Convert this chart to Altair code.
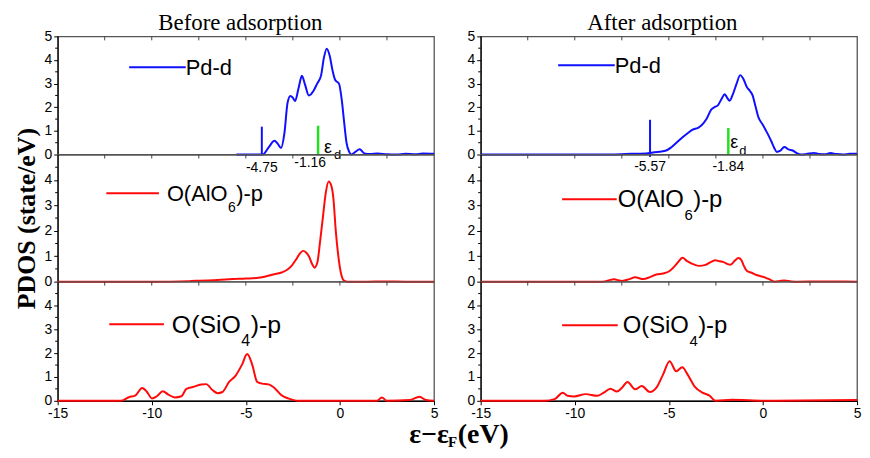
import altair as alt
import pandas as pd

# ---------------- data ----------------
# Pd-d, before adsorption
e_pd_before = [-5.5, -4.15, -4.05, -3.75, -3.48, -3.3, -3.13, -2.95, -2.78, -2.63, -2.5, -2.38,
               -2.2, -2.02, -1.85, -1.65, -1.4, -1.21, -1.0, -0.85, -0.7, -0.55, -0.39, -0.25,
               -0.05, 0.1, 0.22, 0.35, 0.5, 0.6, 0.8, 1.05, 1.3, 1.6, 2.0, 2.5, 3.0, 3.5, 4.0, 4.4, 5.0]
d_pd_before = [0.0, 0.0, 0.02, 0.35, 0.58, 0.45, 0.28, 0.9, 2.2, 2.48, 2.4, 2.27,
               2.8, 3.33, 2.95, 2.5, 2.7, 3.0, 3.35, 4.1, 4.48, 4.2, 3.55, 3.15,
               3.0, 2.3, 1.4, 0.5, 0.1, 0.0, 0.1, 0.22, 0.05, 0.02, 0.04, 0.01, 0.0, 0.03, 0.01, 0.04, 0.03]

# Pd-d, after adsorption
e_pd_after = [-15, -10, -8, -7, -6.1, -5.9, -5.5, -5.14, -4.88, -4.6, -4.27, -4.0, -3.74, -3.45,
              -3.25, -3.0, -2.75, -2.55, -2.4, -2.2, -2.03, -1.9, -1.77, -1.6, -1.4, -1.21, -1.04,
              -0.85, -0.7, -0.55, -0.4, -0.25, 0.0, 0.1, 0.3, 0.45, 0.6, 0.74, 0.9, 1.14, 1.35,
              1.58, 1.8, 2.01, 2.3, 2.71, 3.0, 3.3, 3.59, 3.9, 4.28, 4.6, 5.0]
d_pd_after = [0.0, 0.0, 0.0, 0.03, 0.06, 0.08, 0.12, 0.17, 0.3, 0.5, 0.73, 0.9, 1.05, 1.13,
              1.25, 1.5, 1.9, 2.02, 2.08, 2.35, 2.55, 2.4, 2.28, 2.55, 3.0, 3.36, 3.2,
              2.85, 2.7, 2.5, 2.05, 1.6, 1.25, 1.1, 0.8, 0.55, 0.28, 0.11, 0.15, 0.32, 0.22,
              0.17, 0.06, 0.0, 0.02, 0.07, 0.02, 0.01, 0.06, 0.02, 0.0, 0.03, 0.03]

# O(AlO6)-p, before adsorption
e_alo_before = [-15, -10, -8, -7.46, -6.5, -5.71, -5.0, -4.14, -3.62, -3.1, -2.8, -2.57, -2.35,
                -2.15, -1.96, -1.8, -1.65, -1.45, -1.35, -1.2, -1.05, -0.91, -0.75, -0.6, -0.45,
                -0.35, -0.22, -0.1, 0.05, 0.22, 0.4, 1.5, 2.31, 3.5, 5.0]
d_alo_before = [0.0, 0.0, 0.02, 0.04, 0.06, 0.1, 0.12, 0.17, 0.27, 0.36, 0.47, 0.62, 0.85,
                1.08, 1.21, 1.15, 1.0, 0.65, 0.55, 0.75, 1.6, 2.5, 3.5, 3.94, 3.75,
                3.3, 2.0, 1.1, 0.35, 0.04, 0.0, 0.0, 0.01, 0.0, 0.0]

# O(AlO6)-p, after adsorption
e_alo_after = [-15, -10, -8.5, -8.1, -7.93, -7.49, -7.1, -6.79, -6.36, -6.0, -5.66, -5.3, -4.96,
               -4.7, -4.53, -4.27, -4.05, -3.8, -3.4, -3.05, -2.75, -2.53, -2.3, -2.09, -1.9,
               -1.74, -1.5, -1.3, -1.15, -1.0, -0.85, -0.6, -0.34, 0.1, 0.45, 0.62, 0.9, 1.14,
               1.5, 1.84, 3.0, 5.0]
d_alo_after = [0.0, 0.0, 0.0, 0.07, 0.09, 0.03, 0.1, 0.17, 0.1, 0.18, 0.28, 0.32, 0.42,
               0.6, 0.75, 0.94, 0.82, 0.72, 0.62, 0.66, 0.78, 0.84, 0.8, 0.77, 0.7,
               0.66, 0.82, 0.93, 0.85, 0.6, 0.42, 0.35, 0.26, 0.17, 0.05, 0.0, 0.03, 0.05,
               0.01, 0.0, 0.01, 0.0]

# O(SiO4)-p, before adsorption
e_sio_before = [-15, -11.65, -11.21, -10.86, -10.51, -10.25, -9.99, -9.73, -9.41, -9.12, -8.77,
                -8.42, -8.16, -7.81, -7.37, -7.11, -6.76, -6.5, -6.24, -5.89, -5.54, -5.19,
                -4.93, -4.67, -4.4, -4.14, -3.79, -3.44, -3.1, -2.75, -2.22, 1.97, 2.23, 2.49,
                3.71, 4.23, 4.58, 5.0]
d_sio_before = [0.0, 0.0, 0.15, 0.23, 0.54, 0.37, 0.1, 0.19, 0.4, 0.26, 0.14,
                0.19, 0.5, 0.58, 0.68, 0.7, 0.44, 0.32, 0.37, 0.79, 1.06, 1.54,
                1.96, 1.54, 0.8, 0.72, 0.69, 0.51, 0.23, 0.1, 0.0, 0.0, 0.14, 0.0,
                0.03, 0.17, 0.03, 0.0]

# O(SiO4)-p, after adsorption
e_sio_after = [-15, -11.6, -11.07, -10.64, -10.38, -10.03, -9.42, -8.81, -8.46, -8.11, -7.76,
               -7.49, -7.2, -6.79, -6.44, -6.01, -5.66, -5.31, -4.96, -4.61, -4.29, -4.0,
               -3.65, -3.21, -2.86, -2.51, -1.64, 0.1, 5.0]
d_sio_after = [0.0, 0.0, 0.07, 0.34, 0.21, 0.18, 0.28, 0.21, 0.34, 0.51, 0.39,
               0.55, 0.79, 0.48, 0.62, 0.37, 0.55, 1.1, 1.66, 1.24, 1.41, 1.1,
               0.62, 0.34, 0.23, 0.0, 0.04, 0.0, 0.03]

# sharp Pd-d peak (vertical line) and d-band centre
spike_energy = [-4.15, -6.0]
spike_low = [0.0, -0.1]
spike_high = [1.18, 1.47]
spike_label = ["-4.75", "-5.57"]
dcenter_energy = [-1.16, -1.84]
dcenter_height = [1.22, 1.12]
dcenter_label = ["-1.16", "-1.84"]

panel_titles = ["Before adsorption", "After adsorption"]
x_ticks = [-15, -10, -5, 0, 5]
x_minor_ticks = [-12.5, -10, -7.5, -5, -2.5, 0, 2.5]
y_minor_ticks = [0.5, 1.5, 2.5, 3.5, 4.5]

# ---------------- styling ----------------
SANS = "Liberation Sans"
SERIF = "Liberation Serif"
BLUE = "#1010ff"
RED = "#ff0a0a"
GREEN = "#22e022"
W = 379
HEIGHTS = [119, 128, 120]
XS = alt.Scale(domain=[-15, 5], nice=False, zero=False)
YS = alt.Scale(domain=[0, 5], nice=False, zero=False)


def make_x_axis(show):
    if not show:
        return None
    return alt.Axis(values=x_ticks, labelExpr="'' + datum.value", title=None, grid=False,
                    tickSize=4, tickColor="black", domainColor="black", domainWidth=1.2,
                    labelFont=SANS, labelFontSize=14, labelColor="black", labelPadding=2,
                    labelFlush=False)


def make_y_axis(top, title=None):
    vals = [0, 1, 2, 3, 4, 5] if top else [0, 1, 2, 3, 4]
    if title:
        kw = dict(title=title, titleFont=SERIF, titleFontSize=26, titleFontWeight="bold",
                  titleColor="black", titlePadding=5)
    else:
        kw = dict(title=None)
    return alt.Axis(values=vals, grid=False, tickSize=4, tickColor="black",
                    domainColor="black", domainWidth=1.2, labelFont=SANS, labelFontSize=14,
                    labelColor="black", labelPadding=2, labelFlush=False, **kw)


def one():
    return alt.Chart(pd.DataFrame({"k": [0]}))


def legend(color, x0, x1, y, gap, main, sub=None, rest=None, size=22):
    layers = [one().mark_rule(color=color, strokeWidth=2).encode(
        x=alt.value(x0), x2=alt.value(x1), y=alt.value(y))]
    tx = x1 + gap
    layers.append(one().mark_text(align="left", baseline="middle", font=SANS, fontSize=size,
                                  color="black").encode(
        x=alt.value(tx), y=alt.value(y + 1), text=alt.value(main)))
    if sub:
        ss = round(size * 0.62)
        wmain = 2.778 * size
        layers.append(one().mark_text(align="left", baseline="middle", font=SANS, fontSize=ss,
                                      color="black").encode(
            x=alt.value(tx + wmain + 0.5), y=alt.value(y + 1 + 0.62 * size), text=alt.value(sub)))
        layers.append(one().mark_text(align="left", baseline="middle", font=SANS, fontSize=size,
                                      color="black").encode(
            x=alt.value(tx + wmain + 0.556 * ss + 1), y=alt.value(y + 1), text=alt.value(rest)))
    return layers


def panel(xs, ys, color, top, show_x, ytitle=None):
    xa = make_x_axis(show_x)
    ya = make_y_axis(top, ytitle)

    def X(f):
        return alt.X(f, type="quantitative", scale=XS, axis=xa)

    def Y(f):
        return alt.Y(f, type="quantitative", scale=YS, axis=ya)

    line = alt.Chart(pd.DataFrame({"E": xs, "D": ys})).mark_line(
        color=color, strokeWidth=2, interpolate="monotone").encode(x=X("E"), y=Y("D"))
    # small inner ticks along the top edge and minor ticks on the y axis
    top_ticks = alt.Chart(pd.DataFrame({"t": x_minor_ticks})).mark_rule(
        color="#444444", strokeWidth=1).encode(x=X("t"), y=alt.value(0), y2=alt.value(4))
    ymin = alt.Chart(pd.DataFrame({"m": y_minor_ticks})).mark_rule(
        color="black", strokeWidth=1).encode(y=Y("m"), x=alt.value(-2.5), x2=alt.value(0))
    return [line, top_ticks, ymin], X, Y


def top_extras(i, X, Y, lab_dx, eps_dx, eps_dy, d_dx, d_dy, lab1_dy, lab2_dy):
    spike = alt.Chart(pd.DataFrame({"E": [spike_energy[i]], "a": [spike_low[i]], "b": [spike_high[i]]})
                      ).mark_rule(color=BLUE, strokeWidth=2).encode(x=X("E"), y=Y("a"), y2="b:Q")
    green = alt.Chart(pd.DataFrame({"E": [dcenter_energy[i]], "a": [0.0], "b": [dcenter_height[i]]})
                      ).mark_rule(color=GREEN, strokeWidth=2.5).encode(x=X("E"), y=Y("a"), y2="b:Q")
    lab1 = alt.Chart(pd.DataFrame({"E": [spike_energy[i]], "a": [0.0], "t": [spike_label[i]]})
                     ).mark_text(font=SANS, fontSize=14, color="black", baseline="middle",
                                 dy=lab1_dy).encode(x=X("E"), y=Y("a"), text="t:N")
    lab2 = alt.Chart(pd.DataFrame({"E": [dcenter_energy[i]], "a": [0.0], "t": [dcenter_label[i]]})
                     ).mark_text(font=SANS, fontSize=14, color="black", baseline="middle",
                                 dx=lab_dx, dy=lab2_dy).encode(x=X("E"), y=Y("a"), text="t:N")
    eps = alt.Chart(pd.DataFrame({"E": [dcenter_energy[i]], "a": [0.0]})
                    ).mark_text(font=SANS, fontSize=18, color="black", baseline="middle",
                                align="left", dx=eps_dx, dy=eps_dy).encode(
        x=X("E"), y=Y("a"), text=alt.value("ε"))
    dd = alt.Chart(pd.DataFrame({"E": [dcenter_energy[i]], "a": [0.0]})
                   ).mark_text(font=SANS, fontSize=13, color="black", baseline="middle",
                               align="left", dx=d_dx, dy=d_dy).encode(
        x=X("E"), y=Y("a"), text=alt.value("d"))
    return [spike, green, lab1, lab2, eps, dd]


def title_text(i, xc):
    return one().mark_text(font=SERIF, fontSize=23, color="black", align="center",
                           baseline="alphabetic").encode(
        x=alt.value(xc), y=alt.value(-6), text=alt.value(panel_titles[i]))


# ---------------- left column ----------------
base, X, Y = panel(e_pd_before, d_pd_before, BLUE, True, False)
l1 = alt.layer(
    *base,
    *top_extras(0, X, Y, -8, 6, -7, 16, 1, 14, 9),
    *legend(BLUE, 72, 129, 31, 0, "Pd-d", size=22),
    title_text(0, 184),
).properties(width=W, height=HEIGHTS[0])

base, X, Y = panel(e_alo_before, d_alo_before, RED, False, False, "PDOS (state/eV)")
l2 = alt.layer(
    *base,
    *legend(RED, 49, 102, 39, 8, "O(AlO", "6", ")-p", size=22),
).properties(width=W, height=HEIGHTS[1])

xt_y = 162
base, X, Y = panel(e_sio_before, d_sio_before, RED, False, True)
l3 = alt.layer(
    *base,
    *legend(RED, 52, 107, 43, 8, "O(SiO", "4", ")-p", size=25),
    one().mark_text(font=SERIF, fontSize=28, fontWeight="bold", color="black", align="right",
                    baseline="alphabetic").encode(x=alt.value(394), y=alt.value(xt_y),
                                                  text=alt.value("ε−ε")),
    one().mark_text(font=SERIF, fontSize=15, fontWeight="bold", color="black", align="left",
                    baseline="alphabetic").encode(x=alt.value(393), y=alt.value(xt_y + 5),
                                                  text=alt.value("F")),
    one().mark_text(font=SERIF, fontSize=28, fontWeight="bold", color="black", align="left",
                    baseline="alphabetic").encode(x=alt.value(403), y=alt.value(xt_y),
                                                  text=alt.value("(eV)")),
).properties(width=W, height=HEIGHTS[2])

# ---------------- right column ----------------
base, X, Y = panel(e_pd_after, d_pd_after, BLUE, True, False)
r1 = alt.layer(
    *base,
    *top_extras(1, X, Y, 0, 2, -12, 11, -4, 13, 13),
    *legend(BLUE, 78, 135, 29, 0, "Pd-d", size=22),
    title_text(1, 183),
).properties(width=W, height=HEIGHTS[0])

base, X, Y = panel(e_alo_after, d_alo_after, RED, False, False)
r2 = alt.layer(
    *base,
    *legend(RED, 82, 137, 45, 1, "O(AlO", "6", ")-p", size=24),
).properties(width=W, height=HEIGHTS[1])

base, X, Y = panel(e_sio_after, d_sio_after, RED, False, True)
r3 = alt.layer(
    *base,
    *legend(RED, 82, 138, 44, 5, "O(SiO", "4", ")-p", size=24),
).properties(width=W, height=HEIGHTS[2])

chart = alt.concat(
    l1, r1, l2, r2, l3, r3, columns=2, bounds="flush",
    spacing={"row": 0, "column": 47},
).properties(
    padding={"left": 4, "top": 2, "right": 0, "bottom": 0},
    background="white",
).configure_view(stroke="#555555", strokeWidth=1.3)

chart.save("out.html", embed_options={"renderer": "svg", "actions": False})
